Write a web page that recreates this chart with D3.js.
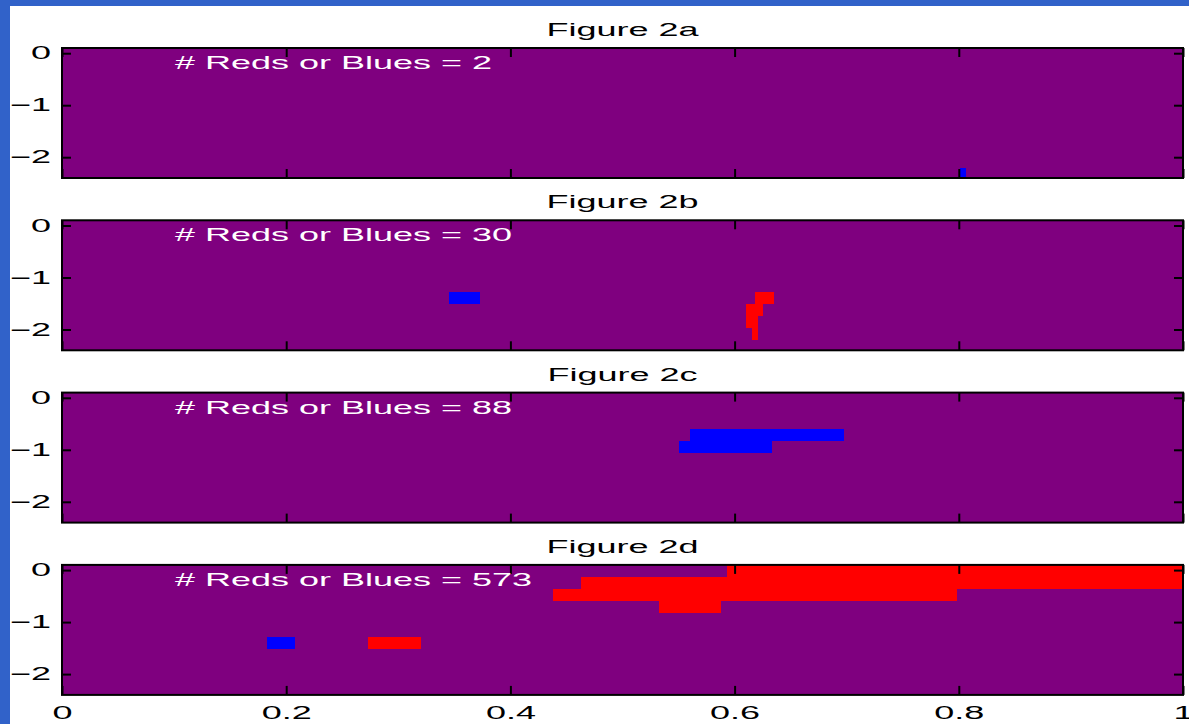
<!DOCTYPE html>
<html>
<head>
<meta charset="utf-8">
<script src="https://cdn.jsdelivr.net/npm/d3@7/dist/d3.min.js"></script>
<style>
  html, body { margin: 0; padding: 0; background: #3162c9; }
  svg { display: block; }
  text { font-family: "Liberation Sans", Arial, Helvetica, sans-serif; }
</style>
</head>
<body>
<svg id="chart" width="1189" height="724"></svg>
<script>
// Panel titles and the count printed inside each panel
const panelTitles = ["Figure 2a", "Figure 2b", "Figure 2c", "Figure 2d"];
const redsOrBlues = [2, 30, 88, 573];

// Coloured cells per panel: x range [x0, x1] and y range [y0, y1] in data units
const cells2a = [
  { c: "blue", x0: 0.801, x1: 0.806, y0: -2.208, y1: -2.4 }
];
const cells2b = [
  { c: "blue", x0: 0.345, x1: 0.373, y0: -1.285, y1: -1.515 },
  { c: "red",  x0: 0.618, x1: 0.635, y0: -1.285, y1: -1.515 },
  { c: "red",  x0: 0.610, x1: 0.625, y0: -1.515, y1: -1.746 },
  { c: "red",  x0: 0.610, x1: 0.621, y0: -1.746, y1: -1.977 },
  { c: "red",  x0: 0.6155, x1: 0.621, y0: -1.977, y1: -2.208 }
];
const cells2c = [
  { c: "blue", x0: 0.560, x1: 0.698, y0: -0.592, y1: -0.823 },
  { c: "blue", x0: 0.550, x1: 0.633, y0: -0.823, y1: -1.054 }
];
const cells2d = [
  { c: "red",  x0: 0.593, x1: 1.0,   y0: 0.1,    y1: -0.131 },
  { c: "red",  x0: 0.463, x1: 1.0,   y0: -0.131, y1: -0.362 },
  { c: "red",  x0: 0.438, x1: 0.798, y0: -0.362, y1: -0.592 },
  { c: "red",  x0: 0.533, x1: 0.588, y0: -0.592, y1: -0.823 },
  { c: "blue", x0: 0.183, x1: 0.208, y0: -1.285, y1: -1.515 },
  { c: "red",  x0: 0.273, x1: 0.320, y0: -1.285, y1: -1.515 }
];
const panelCells = [cells2a, cells2b, cells2c, cells2d];

// Axis ticks
const xTicks = [0, 0.2, 0.4, 0.6, 0.8, 1];
const yTicks = [0, -1, -2];
const xDomain = [0, 1];
const yDomain = [0.1, -2.4];

const colours = { red: "#ff0000", blue: "#0000ff", field: "#7f007f" };

// text is drawn wide: horizontal stretch applied to every label
const stretch = 2.0;

const svg = d3.select("#chart");

// white page inside the blue frame
svg.append("rect")
  .attr("x", 10).attr("y", 6)
  .attr("width", 1179).attr("height", 718)
  .attr("fill", "#ffffff");

const left = 62, right = 1183;
const panelTop0 = 48, panelStep = 172.3, panelH = 130;

const x = d3.scaleLinear().domain(xDomain).range([left, right]);
const fmt = d3.format("");

function stretchText(sel) {
  sel.each(function () {
    const t = d3.select(this);
    const tx = +(t.attr("x") || 0);
    t.attr("x", 0).attr("transform", `translate(${tx},0) scale(${stretch},1)`);
  });
}

panelTitles.forEach((title, i) => {
  const top = panelTop0 + i * panelStep;
  const y = d3.scaleLinear().domain(yDomain).range([top, top + panelH]);
  const g = svg.append("g");

  // background field
  g.append("rect")
    .attr("x", x(xDomain[0])).attr("y", y(yDomain[0]))
    .attr("width", x(xDomain[1]) - x(xDomain[0]))
    .attr("height", y(yDomain[1]) - y(yDomain[0]))
    .attr("fill", colours.field);

  // coloured cells
  g.selectAll("rect.cell")
    .data(panelCells[i])
    .join("rect")
    .attr("class", "cell")
    .attr("x", d => x(d.x0))
    .attr("y", d => y(d.y0))
    .attr("width", d => x(d.x1) - x(d.x0))
    .attr("height", d => y(d.y1) - y(d.y0))
    .attr("fill", d => colours[d.c])
    .attr("shape-rendering", "crispEdges");

  // inward ticks on all four sides
  const bottomAxis = d3.axisBottom(x).tickValues(xTicks).tickSize(-9).tickPadding(11).tickFormat(fmt);
  const topAxis = d3.axisTop(x).tickValues(xTicks).tickSize(-9).tickFormat("");
  const leftAxis = d3.axisLeft(y).tickValues(yTicks).tickSize(-9).tickPadding(11).tickFormat(fmt);
  const rightAxis = d3.axisRight(y).tickValues(yTicks).tickSize(-9).tickFormat("");

  const gb = g.append("g").attr("transform", `translate(0,${top + panelH})`).call(bottomAxis);
  if (i !== panelTitles.length - 1) gb.selectAll("text").remove();
  g.append("g").attr("transform", `translate(0,${top})`).call(topAxis);
  g.append("g").attr("transform", `translate(${left},0)`).call(leftAxis);
  g.append("g").attr("transform", `translate(${right},0)`).call(rightAxis);

  g.selectAll(".domain").remove();
  g.selectAll(".tick line").attr("stroke", "#000").attr("stroke-width", 2);
  g.selectAll(".tick text")
    .attr("fill", "#000")
    .style("font-size", "18px")
    .call(stretchText);

  // frame
  g.append("rect")
    .attr("x", left).attr("y", top)
    .attr("width", right - left).attr("height", panelH)
    .attr("fill", "none")
    .attr("stroke", "#000")
    .attr("stroke-width", 2);

  // title
  g.append("g")
    .attr("transform", `translate(${(left + right) / 2},${top - 12}) scale(${stretch},1)`)
    .append("text")
    .attr("text-anchor", "middle")
    .style("font-size", "18px")
    .attr("fill", "#000")
    .text(title);

  // count label
  g.append("g")
    .attr("transform", `translate(175,${top + 21}) scale(${stretch},1)`)
    .append("text")
    .style("font-size", "18px")
    .attr("fill", "#ffffff")
    .text("# Reds or Blues = " + redsOrBlues[i]);
});
</script>
</body>
</html>
